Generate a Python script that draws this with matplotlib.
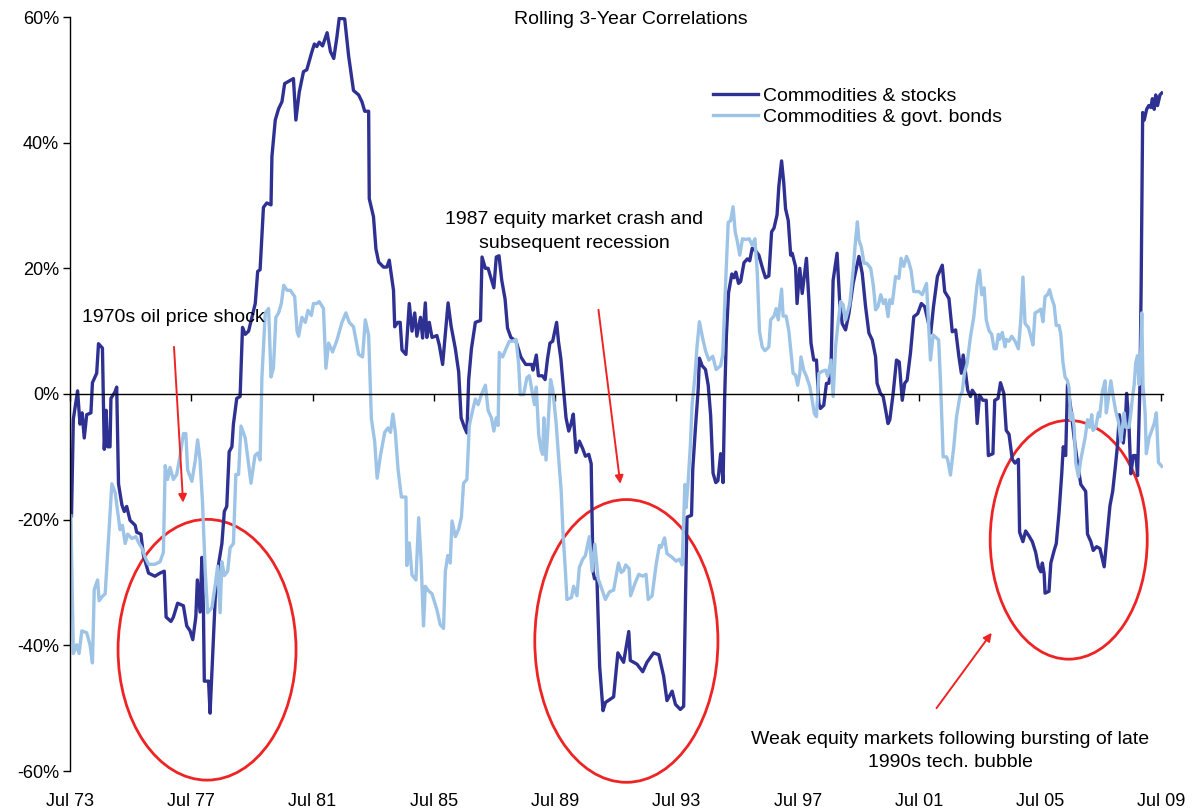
import matplotlib
matplotlib.use('Agg')
import matplotlib.pyplot as plt
from matplotlib.patches import Ellipse

# 数据：滚动 3 年相关系数（%），横轴为年份（小数）
stocks_years = [
    1973.55, 1973.61, 1973.75, 1973.83, 1973.90, 1973.97, 1974.05, 1974.19, 1974.24, 1974.38,
    1974.44, 1974.57, 1974.63, 1974.69, 1974.74, 1974.82, 1974.85, 1974.98, 1975.04, 1975.10,
    1975.21, 1975.29, 1975.37, 1975.48, 1975.65, 1975.70, 1975.84, 1975.92, 1976.09, 1976.30,
    1976.47, 1976.61, 1976.67, 1976.83, 1976.91, 1977.05, 1977.24, 1977.35, 1977.46, 1977.55,
    1977.65, 1977.70, 1977.79, 1977.85, 1977.90, 1977.93, 1978.07, 1978.12, 1978.23, 1978.29,
    1978.40, 1978.51, 1978.59, 1978.67, 1978.75, 1978.84, 1978.89, 1979.00, 1979.11, 1979.19,
    1979.28, 1979.39, 1979.61, 1979.69, 1979.77, 1979.88, 1979.99, 1980.13, 1980.16, 1980.27,
    1980.38, 1980.49, 1980.58, 1980.87, 1980.95, 1981.06, 1981.20, 1981.31, 1981.48, 1981.56,
    1981.64, 1981.72, 1981.83, 1981.98, 1982.09, 1982.20, 1982.30, 1982.38, 1982.56, 1982.69,
    1982.85, 1983.02, 1983.13, 1983.22, 1983.35, 1983.37, 1983.51, 1983.59, 1983.68, 1983.84,
    1983.95, 1984.03, 1984.17, 1984.21, 1984.31, 1984.39, 1984.45, 1984.58, 1984.69, 1984.78,
    1984.87, 1984.94, 1985.06, 1985.13, 1985.22, 1985.27, 1985.35, 1985.44, 1985.60, 1985.68,
    1985.79, 1985.90, 1985.97, 1986.07, 1986.21, 1986.32, 1986.40, 1986.51, 1986.59, 1986.65,
    1986.74, 1986.87, 1987.04, 1987.09, 1987.20, 1987.29, 1987.37, 1987.48, 1987.56, 1987.65,
    1987.74, 1987.85, 1987.93, 1988.04, 1988.21, 1988.37, 1988.53, 1988.73, 1988.77, 1988.88,
    1988.95, 1989.08, 1989.17, 1989.25, 1989.33, 1989.42, 1989.55, 1989.61, 1989.69, 1989.77,
    1989.86, 1989.95, 1990.03, 1990.10, 1990.19, 1990.30, 1990.41, 1990.50, 1990.61, 1990.69,
    1990.75, 1990.80, 1990.88, 1990.97, 1991.08, 1991.16, 1991.43, 1991.57, 1991.76, 1991.93,
    1991.98, 1992.20, 1992.39, 1992.53, 1992.75, 1992.92, 1993.08, 1993.19, 1993.36, 1993.47,
    1993.63, 1993.74, 1993.80, 1993.85, 1994.00, 1994.04, 1994.13, 1994.22, 1994.26, 1994.35,
    1994.46, 1994.55, 1994.63, 1994.71, 1994.80, 1994.87, 1994.96, 1995.04, 1995.09, 1995.15,
    1995.22, 1995.33, 1995.40, 1995.46, 1995.55, 1995.62, 1995.73, 1995.84, 1995.92, 1996.00,
    1996.11, 1996.22, 1996.36, 1996.44, 1996.55, 1996.64, 1996.72, 1996.82, 1996.88, 1996.97,
    1997.04, 1997.10, 1997.19, 1997.27, 1997.32, 1997.43, 1997.48, 1997.57, 1997.65, 1997.73,
    1997.79, 1997.87, 1997.94, 1998.03, 1998.12, 1998.20, 1998.25, 1998.36, 1998.45, 1998.53,
    1998.60, 1998.67, 1998.80, 1998.89, 1998.97, 1999.08, 1999.19, 1999.33, 1999.52, 1999.63,
    1999.74, 1999.85, 1999.96, 2000.07, 2000.12, 2000.23, 2000.32, 2000.40, 2000.48, 2000.54,
    2000.65, 2000.76, 2000.85, 2000.95, 2001.03, 2001.11, 2001.22, 2001.33, 2001.46, 2001.58,
    2001.69, 2001.89, 2001.98, 2002.11, 2002.27, 2002.35, 2002.49, 2002.60, 2002.71, 2002.82,
    2002.90, 2002.96, 2003.04, 2003.11, 2003.20, 2003.26, 2003.37, 2003.42, 2003.50, 2003.61,
    2003.72, 2003.79, 2003.94, 2004.00, 2004.11, 2004.19, 2004.30, 2004.38, 2004.47, 2004.58,
    2004.67, 2004.78, 2004.82, 2004.93, 2005.02, 2005.13, 2005.24, 2005.35, 2005.44, 2005.52,
    2005.57, 2005.63, 2005.66, 2005.79, 2005.85, 2005.96, 2006.03, 2006.12, 2006.21, 2006.26,
    2006.34, 2006.40, 2006.51, 2006.62, 2006.73, 2006.84, 2007.00, 2007.06, 2007.17, 2007.25,
    2007.36, 2007.47, 2007.61, 2007.72, 2007.80, 2007.89, 2007.98, 2008.05, 2008.11, 2008.20,
    2008.24, 2008.31, 2008.35, 2008.42, 2008.49, 2008.57, 2008.66, 2008.71, 2008.75, 2008.79,
    2008.83, 2008.88, 2008.93, 2009.01, 2009.08, 2009.15, 2009.20, 2009.26, 2009.31, 2009.37,
    2009.45, 2009.51,
]
stocks_corr = [
    -19.4, -4.0, 0.5, -4.8, -3.0, -7.0, -3.3, -3.0, 1.8, 3.3,
    8.0, 7.3, -8.8, -2.6, -8.4, -8.4, -0.7, 0.3, 1.1, -14.3,
    -17.6, -18.7, -17.9, -20.1, -20.9, -22.0, -22.3, -25.6, -28.5, -29.0,
    -28.5, -28.2, -35.5, -36.2, -35.5, -33.3, -33.7, -36.9, -37.7, -39.1,
    -35.5, -29.6, -34.7, -26.0, -34.0, -45.7, -45.7, -50.8, -39.1, -32.5,
    -27.1, -23.8, -18.7, -17.9, -9.2, -8.4, -4.8, -0.7, -0.4, 10.6,
    9.5, 10.0, 14.4, 19.5, 19.8, 29.7, 30.4, 30.1, 37.8, 43.6,
    45.4, 46.5, 49.4, 50.2, 43.6, 48.0, 51.3, 51.6, 54.5, 55.7,
    55.3, 56.0, 55.4, 57.5, 54.5, 53.4, 56.7, 59.8, 59.7, 53.8,
    48.3, 47.6, 46.5, 45.0, 45.0, 31.1, 28.2, 23.1, 21.0, 20.2,
    20.2, 21.3, 16.5, 10.7, 11.4, 11.4, 7.0, 6.3, 14.4, 10.0,
    12.9, 9.2, 12.2, 8.9, 14.5, 9.0, 11.4, 9.0, 9.3, 7.8,
    4.7, 10.8, 14.5, 10.8, 7.2, 3.5, -3.8, -5.3, -6.2, 2.3,
    7.2, 11.4, 11.7, 21.8, 20.0, 20.0, 18.7, 16.9, 21.8, 22.0,
    18.1, 15.1, 10.5, 9.0, 8.4, 5.9, 4.7, 4.7, 3.8, 6.2,
    2.9, 2.9, 2.3, 5.6, 8.1, 8.4, 11.4, 8.4, 5.6, 1.1,
    -3.8, -5.9, -4.7, -3.2, -9.3, -7.5, -8.7, -9.9, -9.6, -11.1,
    -28.2, -29.4, -29.4, -43.4, -50.4, -49.1, -48.2, -41.2, -42.7, -37.8,
    -42.4, -43.0, -44.2, -42.7, -41.2, -41.5, -44.9, -48.8, -47.3, -49.4,
    -50.2, -49.7, -32.7, -19.6, -19.3, -12.0, -5.3, 0.8, 5.7, 4.5,
    3.9, 1.4, -3.4, -12.6, -14.1, -13.8, -9.5, -14.1, -1.0, 9.4,
    16.1, 19.1, 18.5, 19.4, 17.6, 17.9, 20.9, 21.5, 21.2, 23.2,
    22.8, 22.1, 19.7, 18.5, 18.8, 25.8, 26.4, 28.5, 33.1, 37.1,
    33.7, 29.5, 27.6, 22.1, 22.4, 20.3, 14.4, 20.0, 16.0, 19.2,
    21.6, 15.0, 8.1, 5.4, 5.4, -1.5, -2.3, -1.8, 1.7, 1.7,
    4.4, 18.1, 22.4, 14.4, 11.2, 10.2, 12.8, 17.6, 21.9, 19.2,
    13.9, 9.7, 8.6, 5.9, 1.7, 0.1, -0.4, -2.5, -4.7, -4.1,
    0.1, 5.4, 5.1, -1.0, 1.7, 2.2, 6.5, 12.3, 12.8, 14.4,
    13.9, 9.7, 13.9, 18.7, 20.5, 16.3, 15.2, 9.9, 10.2, 5.9,
    3.3, 6.2, 3.3, 0.6, -0.4, 0.6, -0.2, -4.7, -0.2, -1.0,
    -1.0, -9.8, -9.5, -1.0, -0.7, 1.8, 0.1, -5.8, -6.4, -10.4,
    -11.0, -10.4, -22.0, -23.5, -21.8, -22.6, -23.5, -25.2, -27.5, -28.3,
    -26.9, -28.6, -31.7, -31.4, -26.9, -24.9, -23.8, -18.9, -12.7, -8.4,
    -9.8, 1.5, -2.4, -7.0, -11.0, -14.4, -15.5, -22.3, -23.5, -24.9,
    -24.3, -24.6, -27.5, -21.8, -17.8, -15.5, -11.5, -8.1, -3.3, -6.4,
    -7.8, -4.4, 0.1, -4.1, -12.7, -9.8, -9.8, -13.0, -5.8, 1.5,
    17.5, 44.8, 43.6, 45.3, 45.9, 45.6, 47.0, 45.3, 47.6, 45.9,
    47.6, 47.9,
]

bonds_years = [
    1973.53, 1973.61, 1973.72, 1973.80, 1973.89, 1974.05, 1974.16, 1974.24, 1974.30, 1974.41,
    1974.46, 1974.57, 1974.66, 1974.77, 1974.88, 1974.99, 1975.07, 1975.15, 1975.23, 1975.32,
    1975.40, 1975.54, 1975.67, 1975.78, 1975.87, 1975.98, 1976.09, 1976.30, 1976.47, 1976.58,
    1976.64, 1976.72, 1976.80, 1976.91, 1977.02, 1977.13, 1977.24, 1977.32, 1977.38, 1977.52,
    1977.63, 1977.71, 1977.79, 1977.87, 1977.96, 1978.04, 1978.18, 1978.29, 1978.37, 1978.45,
    1978.51, 1978.59, 1978.70, 1978.78, 1978.89, 1978.97, 1979.06, 1979.14, 1979.28, 1979.47,
    1979.60, 1979.69, 1979.77, 1979.83, 1979.94, 1980.05, 1980.13, 1980.21, 1980.29, 1980.38,
    1980.47, 1980.55, 1980.66, 1980.77, 1980.91, 1980.99, 1981.04, 1981.15, 1981.26, 1981.35,
    1981.46, 1981.53, 1981.64, 1981.72, 1981.86, 1981.94, 1982.03, 1982.16, 1982.30, 1982.47,
    1982.60, 1982.71, 1982.85, 1983.02, 1983.15, 1983.24, 1983.35, 1983.44, 1983.55, 1983.63,
    1983.74, 1983.88, 1983.99, 1984.07, 1984.15, 1984.23, 1984.32, 1984.43, 1984.58, 1984.61,
    1984.69, 1984.78, 1984.91, 1985.00, 1985.08, 1985.16, 1985.22, 1985.30, 1985.44, 1985.60,
    1985.71, 1985.82, 1985.88, 1985.96, 1986.04, 1986.10, 1986.21, 1986.32, 1986.41, 1986.48,
    1986.59, 1986.67, 1986.78, 1986.87, 1986.96, 1987.07, 1987.20, 1987.29, 1987.40, 1987.48,
    1987.56, 1987.62, 1987.66, 1987.77, 1987.88, 1987.99, 1988.10, 1988.21, 1988.30, 1988.35,
    1988.46, 1988.57, 1988.65, 1988.74, 1988.82, 1988.88, 1988.96, 1989.04, 1989.09, 1989.13,
    1989.20, 1989.26, 1989.35, 1989.42, 1989.53, 1989.64, 1989.70, 1989.76, 1989.84, 1989.89,
    1990.04, 1990.11, 1990.22, 1990.30, 1990.41, 1990.50, 1990.55, 1990.63, 1990.72, 1990.81,
    1990.92, 1991.03, 1991.16, 1991.29, 1991.43, 1991.50, 1991.59, 1991.68, 1991.76, 1991.83,
    1991.94, 1991.99, 1992.13, 1992.26, 1992.39, 1992.50, 1992.57, 1992.70, 1992.83, 1992.94,
    1993.00, 1993.11, 1993.19, 1993.36, 1993.49, 1993.60, 1993.69, 1993.78, 1993.82, 1993.89,
    1993.96, 1994.02, 1994.11, 1994.18, 1994.26, 1994.37, 1994.46, 1994.57, 1994.70, 1994.81,
    1994.96, 1995.03, 1995.12, 1995.21, 1995.29, 1995.37, 1995.44, 1995.51, 1995.59, 1995.68,
    1995.79, 1995.90, 1996.00, 1996.09, 1996.17, 1996.24, 1996.33, 1996.42, 1996.55, 1996.61,
    1996.72, 1996.79, 1996.86, 1996.97, 1997.02, 1997.12, 1997.21, 1997.35, 1997.43, 1997.50,
    1997.57, 1997.61, 1997.70, 1997.79, 1997.90, 1997.98, 1998.05, 1998.12, 1998.20, 1998.31,
    1998.42, 1998.49, 1998.60, 1998.67, 1998.75, 1998.83, 1998.92, 1999.00, 1999.08, 1999.22,
    1999.33, 1999.41, 1999.47, 1999.52, 1999.60, 1999.69, 1999.78, 1999.91, 2000.00, 2000.07,
    2000.15, 2000.24, 2000.33, 2000.40, 2000.48, 2000.54, 2000.62, 2000.73, 2000.84, 2000.91,
    2001.00, 2001.09, 2001.16, 2001.24, 2001.33, 2001.50, 2001.61, 2001.75, 2001.80, 2001.88,
    2001.97, 2002.08, 2002.15, 2002.21, 2002.30, 2002.41, 2002.45, 2002.54, 2002.65, 2002.74,
    2002.85, 2002.93, 2003.00, 2003.09, 2003.20, 2003.31, 2003.42, 2003.50, 2003.57, 2003.65,
    2003.72, 2003.81, 2003.90, 2003.98, 2004.05, 2004.12, 2004.16, 2004.25, 2004.34, 2004.38,
    2004.47, 2004.56, 2004.67, 2004.78, 2004.86, 2004.93, 2005.00, 2005.11, 2005.19, 2005.26,
    2005.33, 2005.44, 2005.52, 2005.59, 2005.66, 2005.74, 2005.81, 2005.88, 2005.96, 2006.03,
    2006.12, 2006.18, 2006.25, 2006.32, 2006.40, 2006.45, 2006.51, 2006.56, 2006.62, 2006.67,
    2006.76, 2006.84, 2006.89, 2006.98, 2007.06, 2007.13, 2007.20, 2007.24, 2007.33, 2007.42,
    2007.46, 2007.55, 2007.64, 2007.68, 2007.75, 2007.83, 2007.90, 2007.99, 2008.08, 2008.16,
    2008.21, 2008.27, 2008.32, 2008.43, 2008.49, 2008.54, 2008.60, 2008.65, 2008.71, 2008.76,
    2008.82, 2008.85, 2008.89, 2008.96, 2009.00, 2009.09, 2009.18, 2009.26, 2009.33, 2009.40,
    2009.51,
]
bonds_corr = [
    -19.4, -41.3, -39.9, -41.3, -37.7, -38.0, -39.9, -42.8, -31.1, -29.6,
    -32.9, -32.2, -31.8, -23.0, -14.3, -15.7, -18.7, -21.6, -20.9, -23.8,
    -22.3, -23.0, -22.7, -23.8, -24.5, -26.0, -27.1, -27.1, -26.7, -25.2,
    -11.4, -13.6, -11.7, -13.6, -12.8, -9.9, -6.3, -6.3, -12.1, -13.9,
    -10.6, -7.3, -10.6, -17.2, -28.2, -34.8, -34.0, -30.4, -27.4, -34.8,
    -26.7, -28.9, -28.2, -24.5, -23.8, -12.8, -12.8, -5.1, -7.0, -14.2,
    -9.8, -9.4, -10.5, 2.7, 12.9, 13.6, 2.7, 4.1, 12.2, 12.9,
    14.4, 17.3, 16.5, 16.5, 15.5, 10.0, 9.2, 12.2, 11.4, 13.3,
    12.5, 14.4, 14.4, 14.7, 13.6, 4.1, 8.1, 6.7, 8.5, 11.4,
    12.9, 11.4, 10.7, 6.3, 5.9, 11.8, 9.3, -3.9, -7.6, -13.4,
    -9.8, -6.1, -5.4, -6.1, -3.2, -6.1, -12.0, -16.4, -16.4, -27.3,
    -23.7, -28.8, -29.6, -19.7, -26.6, -36.9, -30.6, -31.2, -31.8, -34.3,
    -36.7, -37.3, -28.2, -25.7, -26.9, -20.2, -22.7, -21.5, -19.6, -14.2,
    -13.6, -5.0, -2.6, -0.8, -1.7, -0.1, 1.4, -2.6, -3.8, -5.9,
    -3.8, -5.0, 6.6, 5.9, 7.2, 8.4, 8.4, 8.7, 4.7, -0.1,
    -0.1, 2.6, 2.9, 0.5, -1.7, 1.1, -6.5, -9.0, -9.6, -3.8,
    -10.5, -5.6, 2.3, 0.8, -4.4, -11.7, -15.4, -22.1, -28.2, -32.7,
    -32.4, -30.6, -32.1, -27.6, -26.3, -25.7, -24.5, -22.7, -28.2, -23.9,
    -29.4, -30.9, -32.7, -31.5, -31.2, -29.3, -26.9, -28.4, -28.1, -27.2,
    -27.8, -32.1, -30.2, -28.7, -29.0, -28.7, -32.7, -32.1, -27.2, -24.1,
    -24.4, -22.9, -25.4, -26.0, -26.6, -26.3, -27.2, -14.4, -18.1, -13.8,
    -8.3, -1.6, 2.7, 7.5, 11.5, 8.8, 6.9, 5.4, 6.0, 3.9,
    4.5, 6.3, 17.3, 27.3, 27.6, 29.8, 25.8, 24.3, 22.1, 24.7,
    24.6, 24.7, 23.7, 24.7, 19.1, 10.0, 7.5, 6.9, 7.5, 11.8,
    12.4, 13.6, 11.8, 16.7, 12.4, 12.4, 10.0, 3.3, 3.0, 1.4,
    3.3, 5.9, 3.8, 2.8, 1.2, -1.0, -3.1, -3.6, 3.3, 3.6,
    3.8, 2.8, 5.4, -0.4, 7.5, 11.2, 14.7, 14.2, 11.8, 14.4,
    19.7, 24.5, 27.4, 24.5, 23.4, 20.8, 20.8, 20.0, 17.1, 13.4,
    13.9, 15.8, 14.4, 15.0, 12.3, 15.0, 14.4, 18.7, 18.4, 21.6,
    20.3, 21.9, 21.1, 19.7, 16.3, 16.3, 15.8, 17.6, 12.8, 5.4,
    9.4, 8.9, 8.6, 2.2, -10.0, -10.0, -10.5, -12.9, -8.4, -3.6,
    -0.4, 0.4, 3.3, 4.9, 9.1, 12.3, 17.5, 19.7, 15.8, 16.9,
    11.8, 10.1, 9.5, 7.2, 7.2, 9.5, 8.7, 9.8, 7.5, 8.7,
    8.4, 9.2, 8.4, 7.2, 11.8, 18.6, 11.2, 10.6, 9.2, 7.8,
    12.9, 13.2, 13.5, 11.5, 15.5, 15.8, 16.6, 15.2, 14.1, 10.9,
    10.9, 9.5, 5.0, 2.7, 2.1, 1.0, -4.1, -3.0, -5.3, -10.9,
    -13.2, -10.4, -9.2, -7.0, -4.1, -5.3, -3.3, -5.8, -5.3, -3.0,
    -3.6, 0.4, 2.1, -3.0, -0.7, 2.1, -0.2, -2.7, -4.4, -7.5,
    -5.3, -3.0, -5.3, -5.3, -3.0, -0.7, 1.5, 5.0, 6.1, 1.5,
    7.2, 12.9, 1.5, -3.0, -9.5, -7.0, -5.8, -4.7, -3.0, -10.9,
    -11.5,
]

tick_years = [1973.5, 1977.5, 1981.5, 1985.5, 1989.5, 1993.5, 1997.5, 2001.5, 2005.5, 2009.5]
tick_labels = ['Jul 73', 'Jul 77', 'Jul 81', 'Jul 85', 'Jul 89', 'Jul 93', 'Jul 97', 'Jul 01', 'Jul 05', 'Jul 09']
y_ticks = [-60, -40, -20, 0, 20, 40, 60]

DARK = '#2E3192'
LIGHT = '#9DC3E6'
RED = '#EE2424'

plt.rcParams['font.family'] = ['Liberation Sans', 'DejaVu Sans']

fig = plt.figure(figsize=(11.93, 8.11), dpi=100)
ax = fig.add_axes([70 / 1193, 1 - 771 / 811, (1163 - 70) / 1193, 754 / 811])

ax.plot(stocks_years, stocks_corr, color=DARK, lw=2.4, label='Commodities & stocks')
ax.plot(bonds_years, bonds_corr, color=LIGHT, lw=2.4, label='Commodities & govt. bonds')

ax.set_xlim(1973.5, 2009.55)
ax.set_ylim(-60, 60)

# 坐标轴：左轴 + 零线上的横轴刻度，标签放在底部
for side in ['top', 'right']:
    ax.spines[side].set_visible(False)
ax.spines['left'].set_linewidth(1.0)
ax.spines['bottom'].set_position(('data', 0))
ax.spines['bottom'].set_linewidth(1.0)

ax.set_yticks(y_ticks, labels=[f'{v}%' for v in y_ticks])
ax.tick_params(axis='y', direction='out', length=5, width=1, pad=3, labelsize=13)
ax.set_xticks(tick_years)
ax.tick_params(axis='x', direction='out', length=5, width=1, labelbottom=False)

sec = ax.secondary_xaxis('bottom')
sec.set_xticks(tick_years, labels=tick_labels)
sec.tick_params(length=0, pad=16, labelsize=13)
sec.spines['bottom'].set_visible(False)

fig.text(631 / 1193, 1 - 19 / 811, 'Rolling 3-Year Correlations', ha='center', va='center', fontsize=14)

ax.legend(loc='upper left', bbox_to_anchor=(713 / 1193, 1 - 87 / 811), bbox_transform=fig.transFigure,
          frameon=False, fontsize=14, handlelength=2.3, handletextpad=0.25, labelspacing=0.17,
          borderpad=0, borderaxespad=0)

# 红色圈注
for cx, cy, w, h in [(1978.02, -40.7, 5.87, 41.5), (1991.85, -39.3, 6.04, 45.0), (2006.44, -23.2, 5.18, 38.0)]:
    ax.add_patch(Ellipse((cx, cy), w, h, fill=False, ec=RED, lw=2, clip_on=False))

arrow_kw = dict(arrowstyle='-|>', color=RED, lw=1.4, mutation_scale=12, shrinkA=0, shrinkB=0)
ax.annotate('', xy=(1977.23, -17.3), xytext=(1976.93, 7.5), arrowprops=arrow_kw)
ax.annotate('', xy=(1991.65, -14.3), xytext=(1990.93, 13.4), arrowprops=arrow_kw)
ax.annotate('', xy=(2003.9, -38.0), xytext=(2002.08, -50.0), arrowprops=arrow_kw)

ax.text(1973.9, 12.1, '1970s oil price shock', fontsize=14, ha='left', va='center')
ax.text(1990.13, 25.9, '1987 equity market crash and\nsubsequent recession', fontsize=14,
        ha='center', va='center', multialignment='center', linespacing=1.55)
ax.text(2002.54, -56.8, 'Weak equity markets following bursting of late\n1990s tech. bubble', fontsize=14,
        ha='center', va='center', multialignment='center', linespacing=1.5)

fig.savefig('out.png', dpi=100)
